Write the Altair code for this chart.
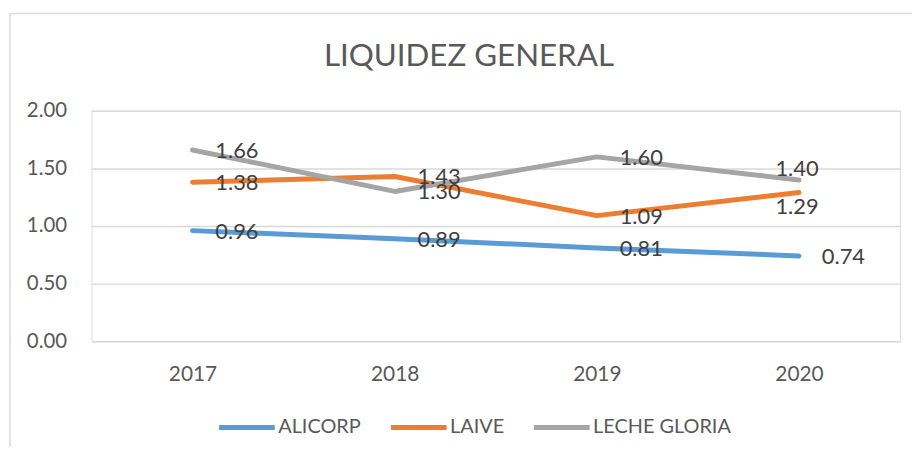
import altair as alt
import pandas as pd

years = ["2017", "2018", "2019", "2020"]
series = ["ALICORP", "LAIVE", "LECHE GLORIA"]
alicorp = [0.96, 0.89, 0.81, 0.74]
laive = [1.38, 1.43, 1.09, 1.29]
leche_gloria = [1.66, 1.30, 1.60, 1.40]
colors = ["#5B9BD5", "#ED7D31", "#A5A5A5"]
title_text = "LIQUIDEZ GENERAL"

rows = []
for name, vals in zip(series, [alicorp, laive, leche_gloria]):
    for y, v in zip(years, vals):
        rows.append({"Empresa": name, "Año": y, "Valor": v})
df = pd.DataFrame(rows)

FONT = "Lato"
TXT = "#595959"

x_enc = alt.X("Año:O", scale=alt.Scale(type="point", padding=0.5), title=None,
              axis=alt.Axis(labelAngle=0, labelFontSize=21, labelColor=TXT, labelFont=FONT,
                            labelPadding=23, domain=False, ticks=False, grid=False))
y_enc = alt.Y("Valor:Q", scale=alt.Scale(domain=[0, 2]), title=None,
              axis=alt.Axis(values=[0, 0.5, 1, 1.5, 2], format=".2f", labelFontSize=20.5,
                            labelColor=TXT, labelFont=FONT, labelPadding=25, domain=False,
                            ticks=False, grid=True, gridColor="#D9D9D9", gridWidth=1.5))

base = alt.Chart(df)

lines = base.mark_line(strokeWidth=5, strokeCap="round", strokeJoin="round").encode(
    x=x_enc, y=y_enc,
    color=alt.Color("Empresa:N", scale=alt.Scale(domain=series, range=colors),
                    legend=alt.Legend(title=None, orient="none", direction="horizontal",
                                      legendX=126, legendY=288, symbolType="stroke",
                                      symbolSize=3136, symbolStrokeWidth=5,
                                      labelFontSize=20, labelFont=FONT, labelColor=TXT,
                                      labelOffset=1, columnPadding=19)),
)

txt_kw = dict(fontSize=22, font=FONT, color="#404040", baseline="middle")

right_labels = base.mark_text(align="left", dx=23, dy=1, **txt_kw).encode(
    x="Año:O", y="Valor:Q", text=alt.Text("Valor:Q", format=".2f")
).transform_filter(
    "!(datum['Año'] == '2020' && datum.Empresa != 'ALICORP')"
)
above_labels = base.mark_text(align="center", dx=-2, dy=-11, **txt_kw).encode(
    x="Año:O", y="Valor:Q", text=alt.Text("Valor:Q", format=".2f")
).transform_filter(
    "datum['Año'] == '2020' && datum.Empresa == 'LECHE GLORIA'"
)
below_labels = base.mark_text(align="center", dx=-2, dy=15, **txt_kw).encode(
    x="Año:O", y="Valor:Q", text=alt.Text("Valor:Q", format=".2f")
).transform_filter(
    "datum['Año'] == '2020' && datum.Empresa == 'LAIVE'"
)

one = pd.DataFrame({"t": [title_text]})
title_mark = alt.Chart(one).mark_text(fontSize=31.5, font=FONT, color=TXT, align="center",
                                      baseline="alphabetic").encode(
    text="t:N", x=alt.value(380), y=alt.value(-45)
)

frame_left = alt.Chart(one).mark_rule(color="#D9D9D9", strokeWidth=1.5).encode(
    x=alt.value(-82), y=alt.value(-98), y2=alt.value(400)
)
frame_top = alt.Chart(one).mark_rule(color="#D9D9D9", strokeWidth=1.5).encode(
    x=alt.value(-82), x2=alt.value(900), y=alt.value(-98)
)

chart = alt.layer(frame_left, frame_top, title_mark, lines, right_labels, above_labels,
                  below_labels).properties(
    width=814, height=232,
    autosize=alt.AutoSizeParams(type="none"),
    padding={"left": 84, "top": 102, "right": 12, "bottom": 105},
).configure_view(stroke=None).configure(background="white")

chart.save("out.html", embed_options={"renderer": "svg", "actions": False})
